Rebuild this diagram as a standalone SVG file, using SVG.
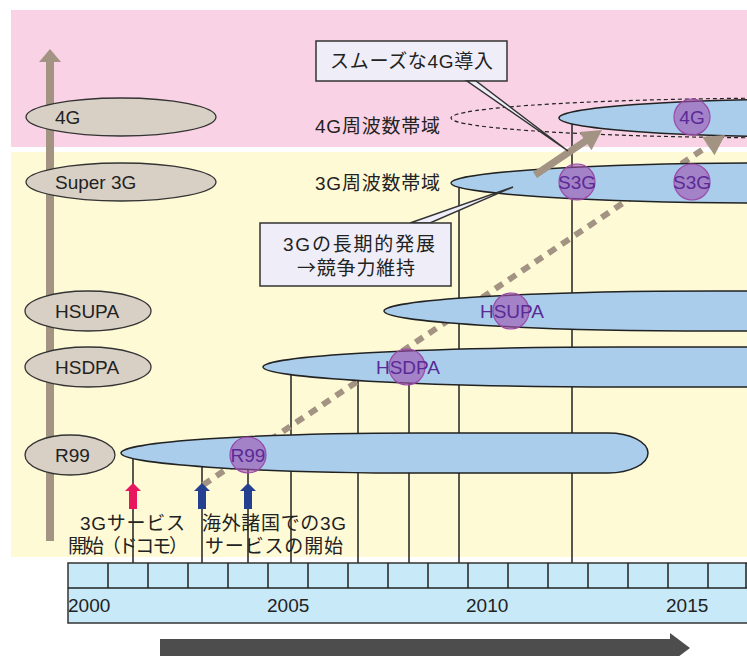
<svg xmlns="http://www.w3.org/2000/svg" width="747" height="656" viewBox="0 0 747 656">
<defs>
<style>
.lat{font-family:"Liberation Sans",Arial,sans-serif;}
.jp{font-family:"Liberation Sans","Noto Sans CJK JP",sans-serif;}
.cjk{font-family:"Noto Sans CJK JP",sans-serif;}
.gray{fill:#d8d0c5;stroke:#333;stroke-width:1.3;}
.gtxt{font-size:19px;fill:#222;}
.bar{fill:#a9cdeb;stroke:#222;stroke-width:1.5;}
.dot{fill:#a050b0;fill-opacity:0.6;stroke:#9a4aa8;stroke-width:1.2;}
.ctxt{font-size:19px;fill:#5a2a96;text-anchor:middle;}
.vl{stroke:#222;stroke-width:1.5;fill:none;}
.box{fill:#efeef8;stroke:#333;stroke-width:1.5;}
.jtxt{font-size:19px;fill:#222;}
.tan{fill:#a39382;}
.tl{fill:#c8e9f8;stroke:#333;stroke-width:1.5;}
</style>
</defs>

<g id="background">
<rect x="11" y="10" width="736" height="137" fill="#f9d3e5"/>
<rect x="11" y="152" width="736" height="405" fill="#fffad6"/>
</g>

<g id="axis-arrow">
<rect class="tan" x="46" y="61" width="8" height="480"/>
<polygon class="tan" points="39,62 50,49 61,62"/>
</g>

<g id="tech-4g"><ellipse class="gray" cx="121" cy="117" rx="95" ry="19"/><text class="lat gtxt" x="55" y="124">4G</text></g>
<g id="tech-super3g"><ellipse class="gray" cx="121" cy="182" rx="95" ry="19"/><text class="lat gtxt" x="55" y="189">Super 3G</text></g>
<g id="tech-hsupa"><ellipse class="gray" cx="88" cy="311" rx="63" ry="20"/><text class="lat gtxt" x="55" y="318">HSUPA</text></g>
<g id="tech-hsdpa"><ellipse class="gray" cx="88" cy="367" rx="63" ry="20"/><text class="lat gtxt" x="55" y="374">HSDPA</text></g>
<g id="tech-r99"><ellipse class="gray" cx="70" cy="455" rx="45" ry="20"/><text class="lat gtxt" x="55" y="462">R99</text></g>

<g id="connectors">
<g id="year-lines">
<line class="vl" x1="133" y1="453" x2="133" y2="563"/>
<line class="vl" x1="202" y1="453" x2="202" y2="563"/>
<line class="vl" x1="248" y1="455" x2="248" y2="563"/>
<line class="vl" x1="291" y1="367" x2="291" y2="563"/>
<line class="vl" x1="358" y1="367" x2="358" y2="563"/>
<line class="vl" x1="409" y1="367" x2="409" y2="563"/>
<line class="vl" x1="459" y1="183" x2="459" y2="563"/>
<line class="vl" x1="572" y1="118" x2="572" y2="563"/>
</g>
<ellipse id="band-4g-dashed" cx="800" cy="118" rx="349" ry="20" fill="none" stroke="#222" stroke-width="1.2" stroke-dasharray="4 3"/>
<line id="dashed-evolution" x1="203" y1="485" x2="708" y2="146" stroke="#a39382" stroke-width="6" stroke-dasharray="9 7"/>
</g>

<g id="bar-r99"><path class="bar" d="M121,453 A300,20 0 0 1 421,433 L608,433 A40,20 0 0 1 608,473 L421,473 A300,20 0 0 1 121,453 Z"/></g>
<g id="bar-hsdpa"><path class="bar" d="M263,367 A360,20 0 0 1 623,347 L760,347 L760,387 L623,387 A360,20 0 0 1 263,367 Z"/></g>
<g id="bar-hsupa"><path class="bar" d="M384,311 A330,20 0 0 1 714,291 L760,291 L760,331 L714,331 A330,20 0 0 1 384,311 Z"/></g>
<g id="bar-s3g"><path class="bar" d="M451,183 A330,20 0 0 1 781,163 L790,163 L790,203 L781,203 A330,20 0 0 1 451,183 Z"/></g>
<g id="bar-4g"><path class="bar" d="M559,118 A260,19 0 0 1 819,99 L830,99 L830,137 L819,137 A260,19 0 0 1 559,118 Z"/></g>

<g id="mark-r99"><circle class="dot" cx="248" cy="455" r="18"/><text class="lat ctxt" x="248" y="462">R99</text></g>
<g id="mark-hsdpa"><circle class="dot" cx="407" cy="367" r="18"/><text class="lat ctxt" x="408" y="374">HSDPA</text></g>
<g id="mark-hsupa"><circle class="dot" cx="511" cy="311" r="18"/><text class="lat ctxt" x="512" y="318">HSUPA</text></g>
<g id="mark-s3g-1"><circle class="dot" cx="577" cy="182" r="18"/><text class="lat ctxt" x="577" y="189">S3G</text></g>
<g id="mark-s3g-2"><circle class="dot" cx="692" cy="182" r="18"/><text class="lat ctxt" x="692" y="189">S3G</text></g>
<g id="mark-4g"><circle class="dot" cx="692" cy="117" r="18"/><text class="lat ctxt" x="692" y="124">4G</text></g>

<g id="transition-arrows">
<line x1="535" y1="175" x2="587" y2="140" stroke="#a39382" stroke-width="7"/>
<polygon class="tan" points="602,130 591.5,150.2 579.3,132"/>
<polygon class="tan" points="725,135 714.5,155.2 702.3,137"/>
</g>

<g id="callout-4g">
<rect class="box" x="316" y="41" width="191" height="40"/>
<polygon class="box" points="467,81 476,81 568,151" stroke-width="1"/>
<text class="jp jtxt" x="330" y="68" textLength="163" lengthAdjust="spacing">スムーズな4G導入</text>
</g>

<g id="callout-3g">
<polygon class="box" points="410,223 430,223 513,187" stroke-width="1"/>
<rect class="box" x="260" y="223" width="191" height="63"/>
<text class="jp jtxt" x="283" y="251" textLength="152" lengthAdjust="spacing">3Gの長期的発展</text>
<text class="cjk jtxt" x="297" y="275" textLength="118" lengthAdjust="spacing">→競争力維持</text>
</g>

<g id="band-labels">
<text class="jp jtxt" x="315" y="133" textLength="125" lengthAdjust="spacing">4G周波数帯域</text>
<text class="jp jtxt" x="315" y="190" textLength="125" lengthAdjust="spacing">3G周波数帯域</text>
</g>

<g id="event-docomo">
<polygon fill="#e8175d" points="133,483 141,491 137,491 137,509 129,509 129,491 125,491"/>
<text class="jp jtxt" x="80" y="530" textLength="105" lengthAdjust="spacing">3Gサービス</text>
<text class="jp jtxt" x="68" y="553" textLength="120" lengthAdjust="spacing">開始（ドコモ）</text>
</g>
<g id="event-overseas">
<polygon fill="#24408e" points="202,483 210,491 206,491 206,509 198,509 198,491 194,491"/>
<polygon fill="#24408e" points="248,483 256,491 252,491 252,509 244,509 244,491 240,491"/>
<text class="jp jtxt" x="202" y="530" textLength="144" lengthAdjust="spacing">海外諸国での3G</text>
<text class="jp jtxt" x="205" y="553" textLength="138" lengthAdjust="spacing">サービスの開始</text>
</g>

<g id="timeline">
<rect class="tl" x="68" y="563" width="700" height="60"/>
<line class="vl" x1="68" y1="588" x2="768" y2="588"/>
<path class="vl" d="M108,563V588M148,563V588M188,563V588M228,563V588M268,563V588M308,563V588M348,563V588M388,563V588M428,563V588M468,563V588M508,563V588M548,563V588M588,563V588M628,563V588M668,563V588M708,563V588M746,563V588"/>
<text class="lat gtxt" x="68" y="612">2000</text>
<text class="lat gtxt" x="267" y="612">2005</text>
<text class="lat gtxt" x="466" y="612">2010</text>
<text class="lat gtxt" x="666" y="612">2015</text>
</g>

<g id="time-arrow">
<rect x="160" y="639" width="512" height="20" fill="#4d4d4d"/>
<polygon fill="#4d4d4d" points="670,633 690,648 670,663"/>
</g>
</svg>
